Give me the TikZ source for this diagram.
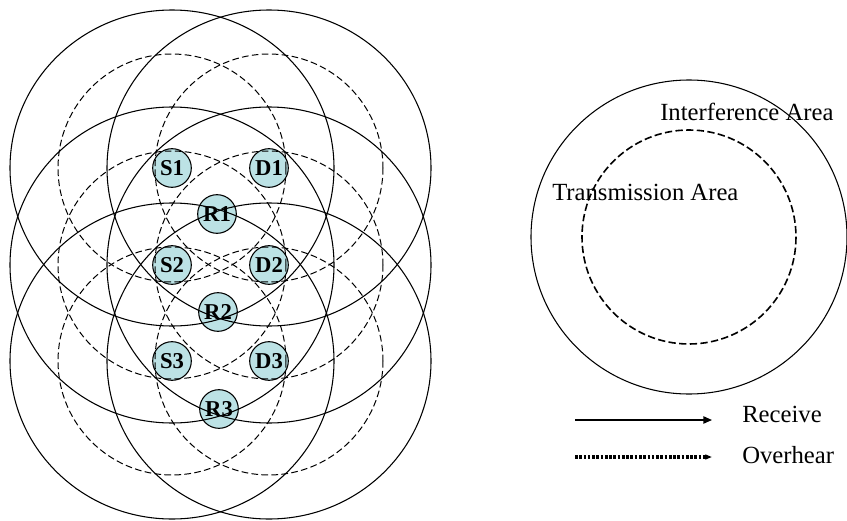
\documentclass[tikz,border=0pt]{standalone}
\usepackage{fontspec}
\setmainfont{Liberation Serif}
\usepackage{tikz}
\usepackage{xcolor}
\usetikzlibrary{arrows.meta}
\definecolor{nodecyan}{RGB}{188,226,229}

\begin{document}
\begin{tikzpicture}[x=0.75pt,y=-0.75pt,
    station/.style={circle,draw,line width=0.8pt,fill=nodecyan,minimum size=29pt,inner sep=0pt,
        font=\fontsize{17}{18}\selectfont\bfseries},
    interf/.style={line width=0.8pt},
    trans/.style={line width=0.75pt,dash pattern=on 5pt off 2.5pt},
    label/.style={anchor=base west,inner sep=0pt,font=\fontsize{18.5}{20}\selectfont}]
    \useasboundingbox (0,0) rectangle (847,521);
    \node[station] (S1) at (172,168) {S1};
    \node[station] (D1) at (269,168) {D1};
    \node[station] (R1) at (217,214) {R1};
    \node[station] (S2) at (172,265) {S2};
    \node[station] (D2) at (269,265) {D2};
    \node[station] (R2) at (218,312) {R2};
    \node[station] (S3) at (172,361) {S3};
    \node[station] (D3) at (269,361) {D3};
    \node[station] (R3) at (219,409) {R3};
    \foreach \n in {S1,D1,S2,D2,S3,D3} {
        \draw[interf] (\n) ellipse [x radius=162, y radius=158];
        \draw[trans] (\n) circle [radius=114];
    }
    \coordinate (range) at (689,237);
    \draw[line width=0.8pt] (range) ellipse [x radius=158, y radius=157];
    \draw[line width=1.2pt,dash pattern=on 5.5pt off 2.5pt] (range) circle [radius=107];
    \node[label] (interfarea) at (660,120) {Interference Area};
    \node[label] (transarea) at (552,200) {Transmission Area};
    \coordinate (rcvstart) at (575,420);
    \coordinate (rcvend) at (712,420);
    \draw[line width=1.1pt,-{Triangle[length=6.5pt,width=5.5pt]}] (rcvstart) -- (rcvend);
    \node[label] (receive) at (742,422) {Receive};
    \coordinate (ovhstart) at (575,457);
    \coordinate (ovhend) at (712,457);
    \draw[line width=2.4pt,dash pattern=on 2pt off 1.2pt,-{Triangle[length=5pt,width=3.6pt]}] (ovhstart) -- (ovhend);
    \node[label] (overhear) at (742,463) {Overhear};
\end{tikzpicture}
\end{document}
